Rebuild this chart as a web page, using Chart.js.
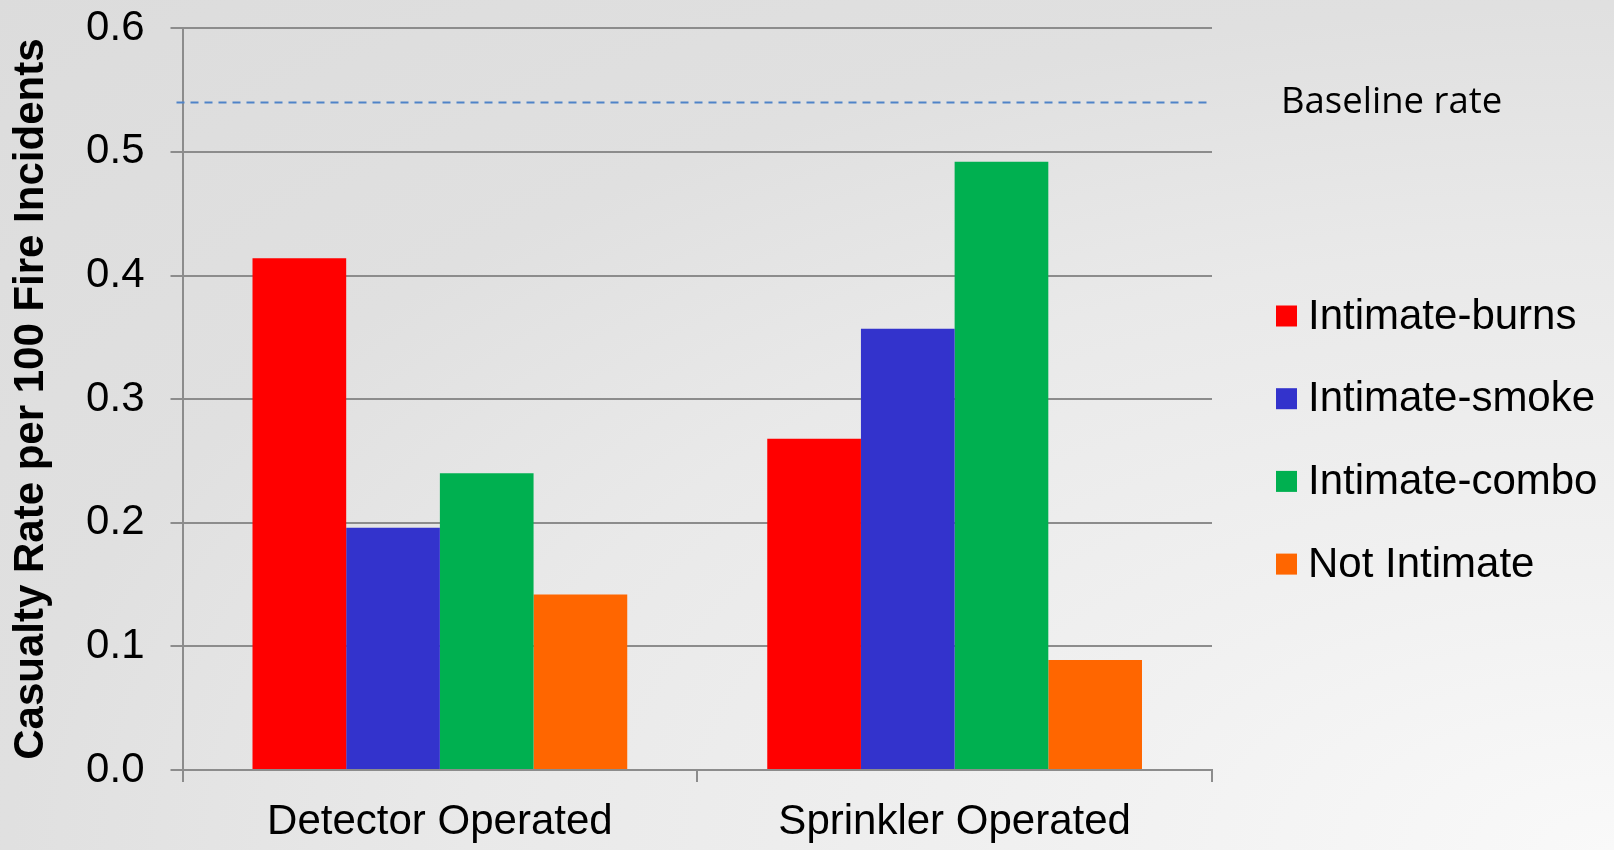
<!DOCTYPE html>
<html>
<head>
<meta charset="utf-8">
<title>Casualty Rate per 100 Fire Incidents</title>
<script src="https://cdn.jsdelivr.net/npm/chart.js@4/dist/chart.umd.min.js"></script>
<style>
  html, body { margin: 0; padding: 0; background: #e6e6e6; }
  #wrap { position: relative; width: 1614px; height: 850px; }
</style>
</head>
<body>
<div id="wrap"><canvas id="chart"></canvas></div>
<script>
const categories = ["Detector Operated", "Sprinkler Operated"]
const seriesNames = ["Intimate-burns", "Intimate-smoke", "Intimate-combo", "Not Intimate"]
const burns = [0.414, 0.268]
const smoke = [0.196, 0.357]
const combo = [0.240, 0.492]
const notIntimate = [0.142, 0.089]
const baselineRate = 0.54
const baselineLabel = "Baseline rate"
const yTicks = [0, 0.1, 0.2, 0.3, 0.4, 0.5, 0.6]
const yTitle = "Casualty Rate per 100 Fire Incidents"

const seriesColors = ["#ff0000", "#3333cc", "#00b050", "#ff6600"]
const gridColor = "#8c8c8c"
const arial = "'Liberation Sans', Arial, sans-serif"

// soft grey backdrop, brightest in the lower right corner
const backdrop = {
  id: "backdrop",
  beforeDraw(chart) {
    const { ctx, width, height } = chart
    ctx.save()
    ctx.translate(width, height)
    ctx.scale(width, height)
    const g = ctx.createRadialGradient(0, 0, 0, 0, 0, 1.42)
    g.addColorStop(0, "#f9f9f9")
    g.addColorStop(0.23, "#f1f1f1")
    g.addColorStop(0.5, "#e9e9e9")
    g.addColorStop(0.7, "#e0e0e0")
    g.addColorStop(1, "#dcdcdc")
    ctx.fillStyle = g
    ctx.fillRect(-1, -1, 1, 1)
    ctx.restore()
  }
}

// dashed reference line plus its label on the right
const baseline = {
  id: "baseline",
  beforeDatasetsDraw(chart) {
    const { ctx, chartArea, scales } = chart
    const y = scales.y.getPixelForValue(baselineRate)
    ctx.save()
    ctx.strokeStyle = "#4f83c8"
    ctx.lineWidth = 2
    ctx.setLineDash([8, 6])
    ctx.beginPath()
    ctx.moveTo(chartArea.left - 6, y)
    ctx.lineTo(chartArea.right, y)
    ctx.stroke()
    ctx.setLineDash([])
    ctx.fillStyle = "#000"
    ctx.font = "36.5px 'Open Sans', sans-serif"
    ctx.textBaseline = "middle"
    ctx.fillText(baselineLabel, chartArea.right + 69, y)
    ctx.restore()
  }
}

// series key stacked to the right of the plot
const sideLegend = {
  id: "sideLegend",
  afterDraw(chart) {
    const { ctx, chartArea } = chart
    const x = chartArea.right + 64
    ctx.save()
    ctx.font = "42px " + arial
    ctx.textBaseline = "middle"
    chart.data.datasets.forEach((ds, i) => {
      const cy = 316 + i * 82.7
      ctx.fillStyle = ds.backgroundColor
      ctx.fillRect(x, cy - 10.5, 21, 21)
      ctx.fillStyle = "#000"
      ctx.fillText(ds.label, x + 32, cy + 1)
    })
    ctx.restore()
  }
}

const seriesValues = [burns, smoke, combo, notIntimate]

new Chart(document.getElementById("chart"), {
  type: "bar",
  data: {
    labels: categories,
    datasets: seriesNames.map((name, i) => ({
      label: name,
      data: seriesValues[i],
      backgroundColor: seriesColors[i],
      borderWidth: 0,
      categoryPercentage: 0.728,
      barPercentage: 1.0
    }))
  },
  options: {
    responsive: true,
    maintainAspectRatio: false,
    devicePixelRatio: 1,
    animation: false,
    layout: {
      padding: { left: 0, top: 28.3, right: 402, bottom: 0 }
    },
    plugins: {
      legend: { display: false },
      tooltip: { enabled: false }
    },
    scales: {
      x: {
        afterFit: s => { s.height = 80 },
        grid: {
          offset: true,
          drawOnChartArea: false,
          tickLength: 12,
          color: gridColor,
          lineWidth: 2
        },
        border: { color: gridColor, width: 2 },
        ticks: {
          color: "#000",
          padding: 15,
          font: { family: arial, size: 42 }
        }
      },
      y: {
        min: 0,
        max: 0.6,
        afterFit: s => {
          s.width = 182.5
          s.paddingTop = 0
          s.paddingBottom = 0
        },
        afterBuildTicks: s => { s.ticks = yTicks.map(v => ({ value: v })) },
        grid: {
          tickLength: 12,
          color: gridColor,
          lineWidth: 2
        },
        border: { color: gridColor, width: 2 },
        ticks: {
          color: "#000",
          padding: 26,
          font: { family: arial, size: 42 },
          callback: v => v.toFixed(1)
        },
        title: {
          display: true,
          text: yTitle,
          color: "#000",
          padding: { top: 6, bottom: 0 },
          font: { family: arial, size: 42, weight: "bold" }
        }
      }
    }
  },
  plugins: [backdrop, baseline, sideLegend]
})
</script>
</body>
</html>
